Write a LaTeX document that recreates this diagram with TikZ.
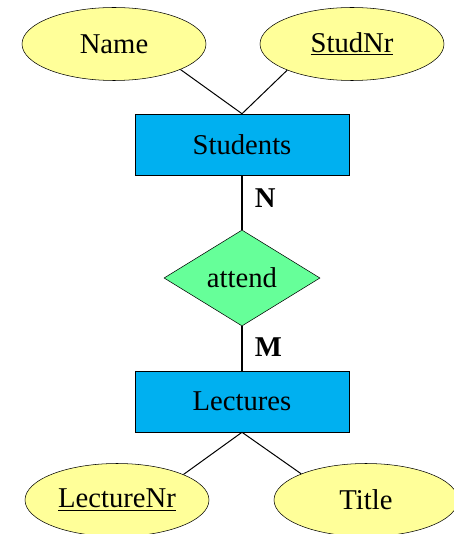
\documentclass[tikz,border=0pt]{standalone}
\usepackage{fontspec}
\setmainfont{Liberation Serif}
\usetikzlibrary{shapes.geometric}
\definecolor{attrfill}{HTML}{FFFF99}
\definecolor{entfill}{HTML}{00B0F0}
\definecolor{relfill}{HTML}{66FF99}
\tikzset{
  entity/.style={draw=black,fill=entfill,rectangle,minimum width=160.5pt,minimum height=45.75pt,inner sep=0pt},
  attrib/.style={draw=black,fill=attrfill,ellipse,minimum width=138pt,minimum height=54.75pt,inner sep=0pt},
  relship/.style={draw=black,fill=relfill,diamond,minimum width=117pt,minimum height=72pt,inner sep=0pt},
  card/.style={font=\fontsize{21.5}{26}\selectfont\bfseries},
  thinlink/.style={draw=black,line width=0.75pt},
  thicklink/.style={draw=black,line width=1.8pt}
}
\begin{document}
\begin{tikzpicture}[x=0.75pt,y=-0.75pt,font=\fontsize{21.5}{26}\selectfont]
\useasboundingbox (0,0) rectangle (453,534);
\node[attrib] (name) at (114,44) {Name};
\node[attrib] (studnr) at (352,44) {\underline{StudNr}};
\node[entity] (students) at (242,144.5) {Students};
\node[relship] (attend) at (242,278) {attend};
\node[entity] (lectures) at (242,401.5) {Lectures};
\node[attrib] (lecturenr) at (117,500) {\underline{LectureNr}};
\node[attrib] (title) at (366,500) {Title};
\draw[thinlink] (name.-21) -- (students.north);
\draw[thinlink] (studnr.-158) -- (students.north);
\draw[thicklink] (students) -- (attend) node[card,pos=0.42,right=5.5pt] (n) {N};
\draw[thicklink] (attend) -- (lectures) node[card,pos=0.47,right=5.5pt] (m) {M};
\draw[thinlink] (lecturenr.21.5) -- (lectures.south);
\draw[thinlink] (title.158.5) -- (lectures.south);
\end{tikzpicture}
\end{document}
